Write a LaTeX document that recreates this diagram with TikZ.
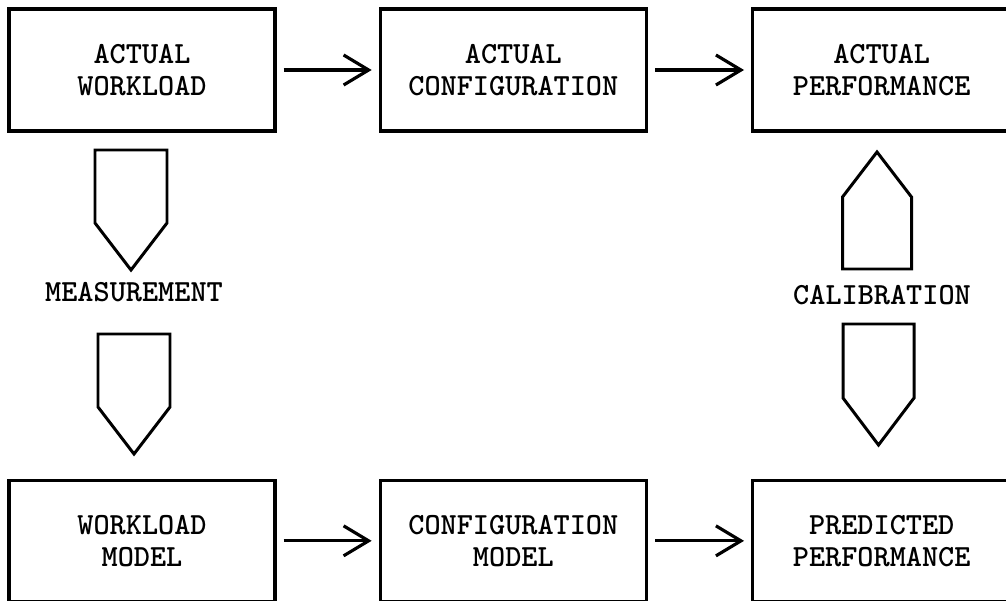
\documentclass[tikz,border=0pt]{standalone}
\usepackage{tikz}
\usetikzlibrary{positioning}
\usetikzlibrary{arrows.meta}
\tikzset{box/.style={draw=black, rectangle, line width=1.9pt, minimum width=5.32cm, minimum height=2.44cm, align=center, font=\ttfamily\bfseries\fontsize{17.5}{18.2}\selectfont}}
\tikzset{flow/.style={line width=1.8pt, -{Straight Barb[length=5mm,width=6mm,line width=1.8pt]}, shorten <=1.4mm, shorten >=1.4mm}}
\tikzset{blk/.style={draw=black, line width=1.7pt, line join=miter}}
\tikzset{lbl/.style={font=\ttfamily\bfseries\fontsize{17.5}{18.2}\selectfont}}

\begin{document}
\begin{tikzpicture}[node distance={2.04cm}]
	\useasboundingbox (0,0) rectangle (20.12,12);
	
	% top row
	\node[box] (aw) at (2.84,10.6) {ACTUAL\\WORKLOAD};
	\node[box] (ac) [right=of aw] {ACTUAL\\CONFIGURATION};
	\node[box, minimum width=5.16cm] (ap) [right=2.06cm of ac] {ACTUAL\\PERFORMANCE};
	
	% bottom row
	\node[box, minimum height=2.42cm] (wm) [below=6.92cm of aw] {WORKLOAD\\MODEL};
	\node[box, minimum height=2.42cm] (cm) [right=of wm] {CONFIGURATION\\MODEL};
	\node[box, minimum height=2.42cm, minimum width=5.16cm] (pp) [right=2.06cm of cm] {PREDICTED\\PERFORMANCE};
	
	\draw[flow] (aw) -- (ac);
	\draw[flow] (ac) -- (ap);
	\draw[flow] (wm) -- (cm);
	\draw[flow] (cm) -- (pp);
	
	% measurement
	\draw[blk] (1.90,9.0) -- ++(1.44,0) -- ++(0,-1.46) -- ++(-0.72,-0.94) -- ++(-0.72,0.94) -- cycle;
	\node[lbl] (meas) at (2.68,6.16) {MEASUREMENT};
	\draw[blk] (1.96,5.32) -- ++(1.44,0) -- ++(0,-1.46) -- ++(-0.72,-0.94) -- ++(-0.72,0.94) -- cycle;
	
	% calibration
	\draw[blk] (16.85,6.62) -- ++(1.38,0) -- ++(0,1.44) -- ++(-0.69,0.9) -- ++(-0.69,-0.9) -- cycle;
	\node[lbl] (calib) at (17.64,6.1) {CALIBRATION};
	\draw[blk] (16.86,5.52) -- ++(1.42,0) -- ++(0,-1.48) -- ++(-0.71,-0.94) -- ++(-0.71,0.94) -- cycle;
\end{tikzpicture}
\end{document}
